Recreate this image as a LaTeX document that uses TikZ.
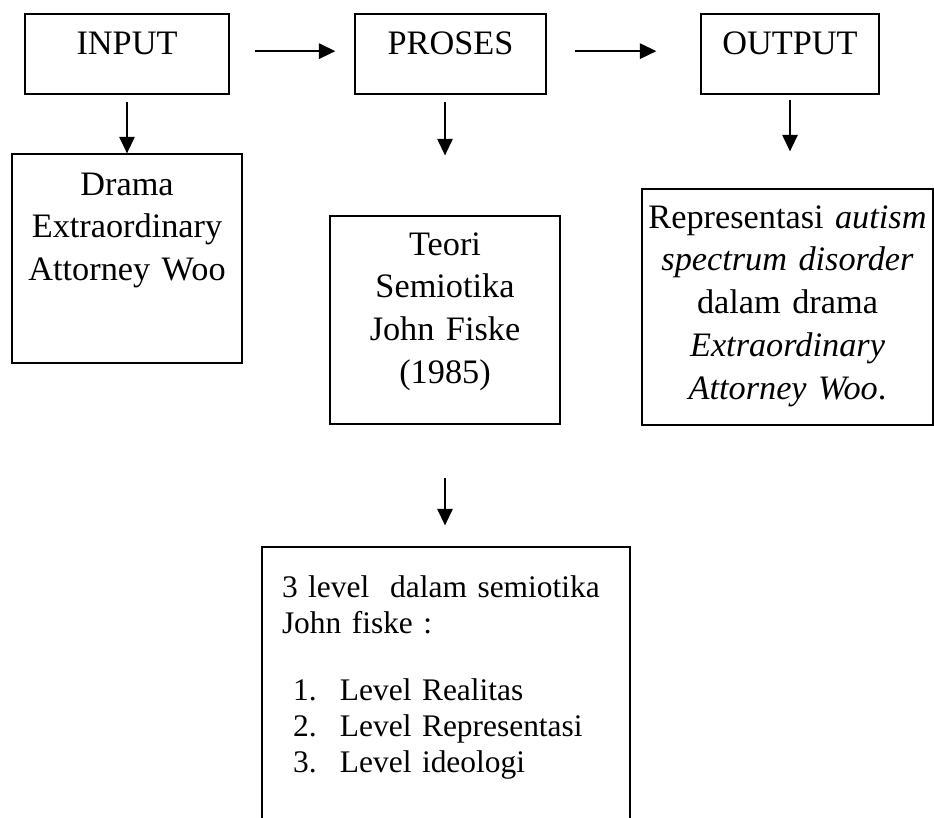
\documentclass[tikz,border=0pt]{standalone}
\usepackage{fontspec}
\setmainfont{Liberation Serif}
\usetikzlibrary{arrows.meta}

\newcommand{\lvlitem}[2]{\hspace*{3.9pt}\makebox[16.4pt][l]{#1}#2}

\begin{document}
\begin{tikzpicture}[
        x=0.35pt, y=-0.35pt,
        >={Triangle[length=5.8pt, width=5.4pt]},
        every node/.style={inner sep=0pt, align=center},
        box/.style={
            draw,
            line width=0.45pt,
            anchor=base,
            font=\fontsize{12}{15}\selectfont
        },
        flow/.style={->, line width=0.6pt}
    ]
        \clip (0,0) rectangle (934,817);

        % Boxes - first row
        \node[box, text width=71.4pt, text height=14pt, text depth=14pt] (input) at (127,54) {INPUT};
        \node[box, text width=66.85pt, text height=14pt, text depth=14pt] (proses) at (450.5,54) {PROSES};
        \node[box, text width=62.3pt, text height=14pt, text depth=14pt] (output) at (790,54) {OUTPUT};

        % Boxes - second row
        \node[box, text width=80.5pt, text height=14.35pt, text depth=58.8pt] (drama) at (127,195) {Drama\\Extraordinary\\Attorney Woo};
        \node[box, text width=80.5pt, text height=13.65pt, text depth=59.15pt] (teori) at (445,255) {Teori\\Semiotika\\John Fiske\\(1985)};
        \node[box, text width=101.85pt, text height=13.65pt, text depth=68.95pt] (repr) at (787.5,228) {Representasi \textit{autism}\\\textit{spectrum disorder}\\dalam drama\\\textit{Extraordinary}\\\textit{Attorney Woo}.};

        % Levels box (cut at the bottom)
        \node[box, align=left, font=\fontsize{11}{12.6}\selectfont, text width=114.8pt, inner xsep=7pt, text height=17.5pt, text depth=85pt] (levels) at (446,597) {3 level\ \ dalam semiotika\\John fiske :\\[10.9pt]
            \lvlitem{1.}{Level Realitas}\\
            \lvlitem{2.}{Level Representasi}\\
            \lvlitem{3.}{Level ideologi}};

        % Arrows along the first row
        \draw[flow, line width=0.7pt, shorten <=8.75pt, shorten >=6.65pt] ([yshift=1pt]input.east) -- ([yshift=1pt]proses.west);
        \draw[flow, line width=0.7pt, shorten <=9.8pt, shorten >=15.4pt] ([yshift=1pt]proses.east) -- ([yshift=1pt]output.west);

        % Arrows down
        \draw[flow, shorten <=2.45pt] (input.south) -- (drama.north);
        \draw[flow, shorten <=2.45pt, shorten >=21pt] (teori.north |- proses.south) -- (teori.north);
        \draw[flow, shorten <=1.75pt, shorten >=12.95pt] (output.south) -- (output.south |- repr.north);
        \draw[flow, shorten <=18.55pt, shorten >=7.35pt] (teori.south) -- (teori.south |- levels.north);
    \end{tikzpicture}
\end{document}
